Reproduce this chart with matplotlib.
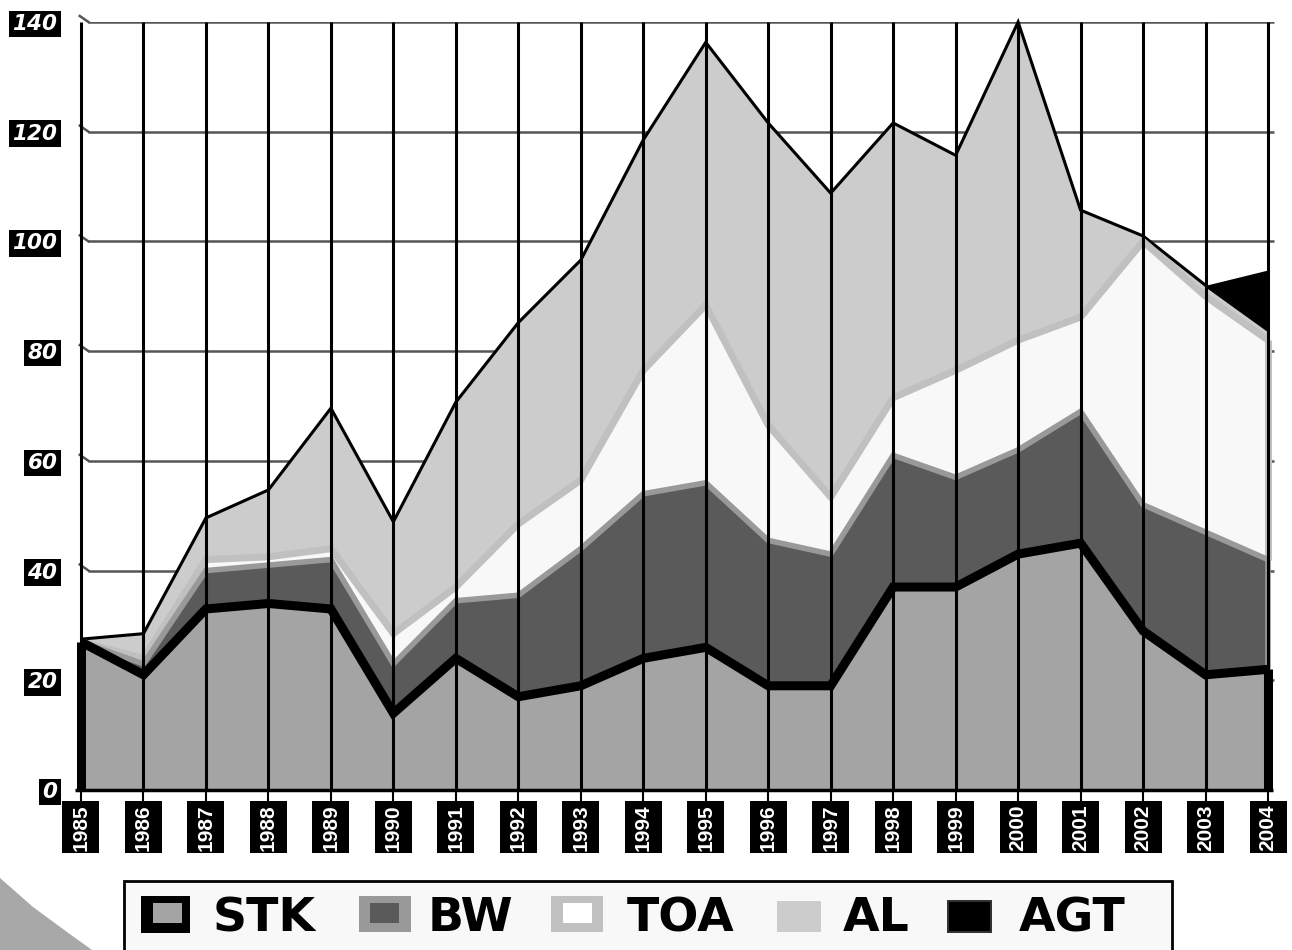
import numpy as np
import matplotlib.pyplot as plt
from matplotlib.patches import Rectangle, Polygon

# data (values stacked on top of each other)
years = [1985, 1986, 1987, 1988, 1989, 1990, 1991, 1992, 1993, 1994,
         1995, 1996, 1997, 1998, 1999, 2000, 2001, 2002, 2003, 2004]
stk = [27, 21, 33, 34, 33, 14, 24, 17, 19, 24, 26, 19, 19, 37, 37, 43, 45, 29, 21, 22]
bw = [0, 2, 7, 7, 9, 9, 10.5, 18.5, 25, 30, 30, 26.5, 24, 24, 20, 19, 24, 23, 26, 20]
toa = [0, 1, 2, 1.5, 2, 5.5, 2.5, 13, 12.5, 22.5, 32.4, 21, 10.4, 10.5, 19.5, 20, 17.2, 48, 43, 40]
al = [0.5, 4.5, 7.6, 12.2, 25.6, 20.4, 33.7, 36.7, 40.1, 42, 47.9, 55.1, 55.4, 50.1, 39.2, 58, 19.5, 1, 2, 1.8]
agt = [0, 0, 0, 0, 0, 0, 0, 0, 0, 0, 0, 0, 0, 0, 0, 0, 0, 0, 0, 11]
yticks = [0, 20, 40, 60, 80, 100, 120, 140]
labels = ['STK', 'BW', 'TOA', 'AL', 'AGT']

W, H = 1292, 950
fig = plt.figure(figsize=(W / 100, H / 100), dpi=100)
ax = fig.add_axes([70 / W, 160 / H, 1210 / W, 768 / H])
ax.set_xlim(1984.824, 2004.192)
ax.set_ylim(0, 140)
for s in ax.spines.values():
    s.set_visible(False)

# horizontal grid (behind the areas) with the little depth ticks on the left
ax.hlines(yticks[1:], 1985.12, 2004.1, colors='#555555', lw=1.8, zorder=1)
for v in yticks[1:]:
    ax.plot([1984.98, 1985.12], [v + 1.1, v], color='#555555', lw=1.8, zorder=1, clip_on=False)

# stacked areas
x = np.array(years)
series = [stk, bw, toa, al, agt]
fills = ['#a4a4a4', '#5a5a5a', '#f8f8f8', '#cccccc', 'black']
edges = ['black', '#999999', '#c0c0c0', 'black', 'black']
widths = [6.5, 4, 5, 2.2, 0]
lower = np.zeros(len(years))
bounds = []
for vals, fc in zip(series, fills):
    upper = lower + np.array(vals)
    ax.fill_between(x, lower, upper, color=fc, lw=0, zorder=2)
    bounds.append((lower, upper))
    lower = upper

# outlines, top layer first so STK ends up on top
for i in [3, 2, 1, 0]:
    lo, up = bounds[i]
    kw = dict(color=edges[i], lw=widths[i], zorder=3 + (3 - i), clip_on=False,
              solid_joinstyle='miter', solid_capstyle='butt')
    ax.plot(x, up, **kw)
    ax.plot([x[0], x[0]], [lo[0], up[0]], **kw)
    ax.plot([x[-1], x[-1]], [lo[-1], up[-1]], **kw)

# vertical grid on top
ax.vlines(years, 0, 140, colors='black', lw=2.2, zorder=8)
ax.hlines(0, 1984.9, 2004.08, colors='black', lw=2.5, zorder=9, clip_on=False)

# x ticks: white year on a black box
ax.set_xticks(years)
ax.set_xticklabels([str(y) for y in years], rotation=90, va='center', color='white',
                   family='Liberation Sans', weight='bold', fontsize=15)
ax.tick_params(axis='x', length=8, width=1.5, color='black', pad=19)
box_w = 37 * 19.368 / 1210
for yr in years:
    ax.add_patch(Rectangle((yr - box_w / 2, -63 / 768), box_w, 52 / 768,
                           transform=ax.get_xaxis_transform(), fc='black', ec='none',
                           clip_on=False, zorder=0.5))

ax.set_yticks(yticks)
ax.set_yticklabels([str(v) for v in yticks], color='white', family='DejaVu Sans',
                   weight='bold', style='italic', fontsize=15.5)
ax.tick_params(axis='y', length=0, pad=9)
for t in ax.get_yticklabels():
    t.set_bbox(dict(boxstyle='square,pad=0.15', fc='black', ec='none'))


def fig_rect(x0, y0, x1, y1, **kw):
    return Rectangle((x0 / W, 1 - y1 / H), (x1 - x0) / W, (y1 - y0) / H,
                     transform=fig.transFigure, **kw)


# grey decoration at bottom left
deco = [(0, 878), (33, 907), (67, 932), (92, 950), (0, 950)]
fig.add_artist(Polygon([(px / W, 1 - py / H) for px, py in deco], closed=True,
                       transform=fig.transFigure, fc='#a8a8a8', ec='none'))

# legend box
fig.add_artist(fig_rect(124, 881, 1172, 965, fc='#f8f8f8', ec='black', lw=2))
swatches = [  # outer box, outer colour, inner box, inner colour
    ((141, 896, 190, 933), 'black', (153, 903, 182, 923), '#a4a4a4'),
    ((359, 896, 411, 932), '#999999', (370, 903, 399, 923), '#5a5a5a'),
    ((551, 896, 603, 932), '#c0c0c0', (563, 903, 592, 923), 'white'),
    ((777, 901, 821, 932), '#cccccc', None, None),
    ((947, 900, 992, 933), '#333333', (949, 902, 990, 931), 'black'),
]
text_centres = [264, 470, 681, 876, 1072]
for lab, (outer, oc, inner, ic), cx in zip(labels, swatches, text_centres):
    fig.add_artist(fig_rect(*outer, fc=oc, ec='none'))
    if inner is not None:
        fig.add_artist(fig_rect(*inner, fc=ic, ec='none'))
    fig.text(cx / W, 1 - 931 / H, lab, ha='center', va='baseline', fontsize=34,
             weight='bold', family='DejaVu Sans', color='black')

fig.savefig('out.png', dpi=100)
